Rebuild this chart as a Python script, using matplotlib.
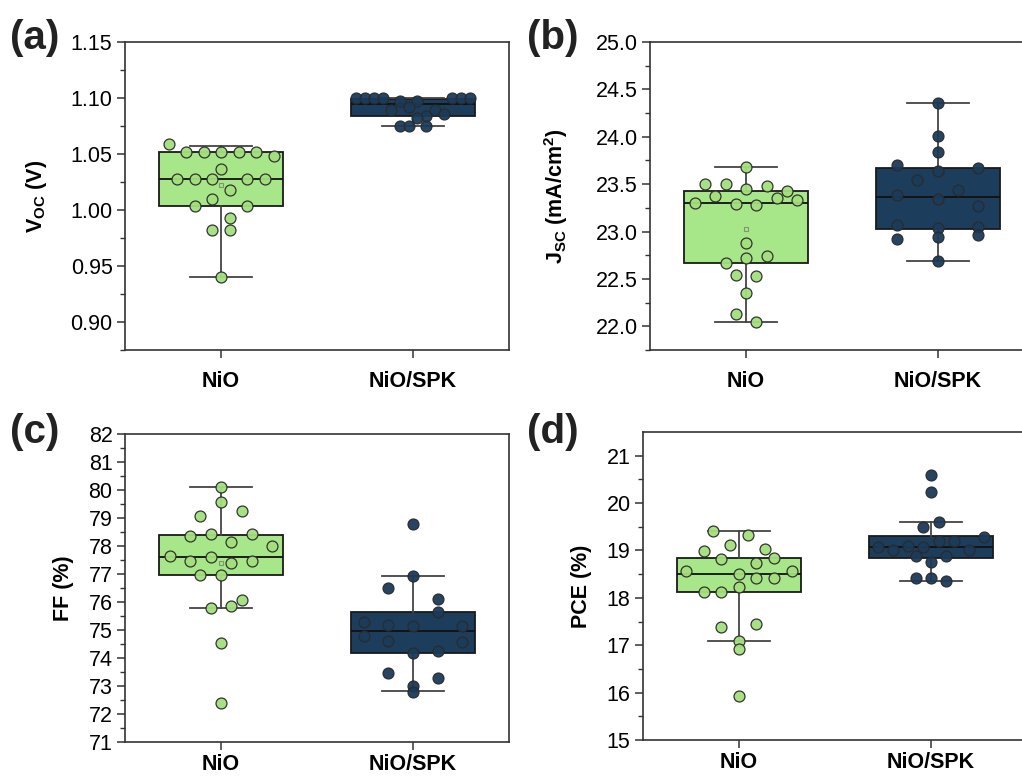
import numpy as np
import matplotlib
matplotlib.use("Agg")
import matplotlib.pyplot as plt

plt.rcParams["font.family"] = ["Liberation Sans", "DejaVu Sans"]
plt.rcParams["mathtext.fontset"] = "custom"
plt.rcParams["mathtext.rm"] = "Liberation Sans"
plt.rcParams["mathtext.bf"] = "Liberation Sans:bold"

groups = ["NiO", "NiO/SPK"]

# ---- Voc (V) ----
voc_nio = [1.0587, 1.0521, 1.0521, 1.0521, 1.0521, 1.0521, 1.0479, 1.0366, 1.0279, 1.0279,
           1.0279, 1.0279, 1.0279, 1.0179, 1.0098, 1.0038, 1.0038, 0.9926, 0.9821, 0.9821, 0.9402]
voc_nio_dx = [-0.273, -0.182, -0.09, 0.0, 0.092, 0.182, 0.274, 0.0, -0.229, -0.137,
              -0.045, 0.137, 0.227, 0.049, -0.045, -0.137, 0.137, 0.049, -0.045, 0.049, 0.0]
voc_spk = [1.1003, 1.1003, 1.1003, 1.1003, 1.1003, 1.1003, 1.1003, 1.0971, 1.0971, 1.0922,
           1.0897, 1.0897, 1.0839, 1.0857, 1.0824, 1.0753, 1.0753, 1.0753]
voc_spk_dx = [-0.297, -0.25, -0.205, -0.158, 0.203, 0.25, 0.295, -0.069, 0.021, -0.023,
              -0.115, 0.115, 0.068, 0.16, 0.021, -0.069, -0.023, 0.068]
# q1, median, q3, whisker low, whisker high, mean
voc_box = [[1.0038, 1.0279, 1.0521, 0.9402, 1.0575, 1.0226],
           [1.0839, 1.0946, 1.0995, 1.0753, 1.1003, 1.0920]]

# ---- Jsc (mA/cm2) ----
jsc_nio = [23.683, 23.497, 23.497, 23.479, 23.43, 23.451, 23.370, 23.349, 23.331, 23.30, 23.295,
           23.285, 22.88, 22.72, 22.737, 22.669, 22.546, 22.536, 22.352, 22.127, 22.05]
jsc_nio_dx = [0.0, -0.212, -0.104, 0.108, 0.214, 0.0, -0.16, 0.161, 0.266, -0.264, -0.052,
              0.054, 0.0, 0.0, 0.108, -0.104, -0.052, 0.054, 0.0, -0.052, 0.054]
jsc_spk = [24.352, 24.007, 23.842, 23.70, 23.673, 23.641, 23.543, 23.437, 23.384, 23.342,
           23.271, 23.074, 23.035, 23.043, 22.916, 22.944, 22.962, 22.69]
jsc_spk_dx = [0.0, 0.0, 0.0, -0.215, 0.21, 0.0, -0.108, 0.104, -0.215, 0.0,
              0.21, -0.215, 0.0, 0.21, -0.215, 0.0, 0.21, 0.0]
jsc_box = [[22.669, 23.296, 23.426, 22.05, 23.683, 23.03],
           [23.03, 23.366, 23.673, 22.69, 24.352, 23.40]]

# ---- FF (%) ----
ff_nio = [80.12, 79.58, 79.08, 79.26, 78.35, 78.43, 78.42, 78.13, 78.0, 77.66, 77.62,
          77.47, 77.40, 77.46, 76.97, 76.97, 76.08, 75.79, 75.87, 74.54, 72.38]
ff_nio_dx = [0.0, 0.0, -0.108, 0.108, -0.161, -0.054, 0.161, 0.054, 0.267, -0.267, -0.054,
             -0.161, 0.054, 0.161, -0.108, 0.0, 0.108, -0.054, 0.054, 0.0, 0.0]
ff_spk = [78.80, 76.92, 76.49, 76.12, 75.65, 75.27, 75.17, 75.13, 75.13, 74.79,
          74.60, 74.56, 74.18, 74.25, 73.45, 73.27, 72.99, 72.79]
ff_spk_dx = [0.0, 0.0, -0.128, 0.128, 0.128, -0.255, -0.128, 0.0, 0.255, -0.255,
             -0.128, 0.255, 0.0, 0.128, -0.128, 0.128, 0.0, 0.0]
ff_box = [[76.96, 77.61, 78.41, 75.79, 80.12, 77.40],
          [74.18, 74.95, 75.63, 72.83, 76.92, 75.00]]

# ---- PCE (%) ----
pce_nio = [19.42, 19.33, 19.12, 18.98, 19.03, 18.81, 18.85, 18.73, 18.57, 18.56, 18.51,
           18.41, 18.41, 18.22, 18.13, 18.13, 17.39, 17.45, 17.08, 16.91, 15.93]
pce_nio_dx = [-0.135, 0.047, -0.047, -0.182, 0.135, -0.092, 0.182, 0.09, -0.274, 0.274, 0.0,
              0.09, 0.182, 0.0, -0.182, -0.092, -0.092, 0.09, 0.0, 0.0, 0.0]
pce_spk = [20.59, 20.24, 19.60, 19.49, 19.29, 19.21, 19.21, 19.10, 19.07, 19.07,
           19.02, 19.02, 18.89, 18.88, 18.75, 18.41, 18.41, 18.35]
pce_spk_dx = [0.0, 0.0, 0.04, -0.043, 0.278, 0.04, 0.122, -0.122, -0.278, -0.043,
              -0.2, 0.2, -0.078, 0.078, 0.0, -0.078, 0.0, 0.078]
pce_box = [[18.13, 18.51, 18.85, 17.08, 19.42, 18.45],
           [18.85, 19.07, 19.30, 18.35, 19.60, 19.10]]

box_colors = ["#a8e68a", "#1d3d5c"]
dot_colors = ["#a3e07d", "#1b3b5a"]

W, H = 1022, 778
fig = plt.figure(figsize=(W / 100, H / 100), dpi=100)


def make_axes(left, top):
    return fig.add_axes([left / W, 1 - (top + 308) / H, 384 / W, 308 / H])


def draw_panel(ax, pts, offs, boxes, ylim, major, minor, ylabel, label_x, fmt, tag, tag_xy,
               xpad=9):
    stats = []
    for i, b in enumerate(boxes):
        stats.append(dict(q1=b[0], med=b[1], q3=b[2], whislo=b[3], whishi=b[4],
                          mean=b[5], fliers=[], label=groups[i]))
    bp = ax.bxp(stats, positions=[1, 2], widths=0.645, patch_artist=True,
                showfliers=False, showmeans=False,
                boxprops=dict(linewidth=1.3, edgecolor="#1a1a1a"),
                medianprops=dict(color="#111111", linewidth=1.3),
                whiskerprops=dict(color="#444444", linewidth=1.3),
                capprops=dict(color="#444444", linewidth=1.3),
                capwidths=0.32)
    for patch, c in zip(bp["boxes"], box_colors):
        patch.set_facecolor(c)
    # mean marker of the first group
    ax.plot(1, boxes[0][5], marker="s", ms=3, mfc="none", mec="#7a9a6a", mew=0.8, zorder=4)

    for i, (vals, dx) in enumerate(zip(pts, offs)):
        x = 1 + i + np.array(dx)
        ax.scatter(x, vals, s=62, color=dot_colors[i], edgecolor="#2a2a2a",
                   linewidth=0.9, zorder=5, alpha=0.95)

    ax.set_xlim(0.5, 2.5)
    ax.set_ylim(*ylim)
    ax.set_yticks(major)
    ax.set_yticks(minor, minor=True)
    ax.yaxis.set_major_formatter(plt.FormatStrFormatter(fmt))
    ax.set_xticks([1, 2])
    ax.set_xticklabels(groups, fontsize=15.5, fontweight="bold")
    ax.tick_params(axis="y", which="major", direction="out", length=6, width=1.1,
                   labelsize=15.5, color="#333333", pad=3)
    ax.tick_params(axis="y", which="minor", direction="out", length=3.5, width=1.0,
                   color="#333333")
    ax.tick_params(axis="x", direction="out", length=6, width=1.1, color="#333333", pad=xpad)
    for s in ax.spines.values():
        s.set_linewidth(1.2)
        s.set_color("#333333")
    ax.set_ylabel(ylabel, fontsize=15.5, fontweight="bold")
    ax.yaxis.set_label_coords(label_x, 0.5)
    fig.text(tag_xy[0] / W, 1 - tag_xy[1] / H, tag, fontsize=29, fontweight="bold",
             ha="left", va="center", color="#222222")


ax_a = make_axes(125, 42)
draw_panel(ax_a, [voc_nio, voc_spk], [voc_nio_dx, voc_spk_dx], voc_box,
           (0.875, 1.15), np.arange(0.90, 1.151, 0.05), np.arange(0.875, 1.15, 0.025),
           r"V$_\mathbf{OC}$ (V)", -0.198, "%.2f", "(a)", (10, 38))

ax_b = make_axes(650, 42)
draw_panel(ax_b, [jsc_nio, jsc_spk], [jsc_nio_dx, jsc_spk_dx], jsc_box,
           (21.75, 25.0), np.arange(22.0, 25.01, 0.5), np.arange(21.75, 25.0, 0.25),
           r"J$_\mathbf{SC}$ (mA/cm$^\mathbf{2}$)", -0.208, "%.1f", "(b)", (527, 38))

ax_c = make_axes(125, 434)
draw_panel(ax_c, [ff_nio, ff_spk], [ff_nio_dx, ff_spk_dx], ff_box,
           (71, 82), np.arange(71, 82.1, 1), np.arange(71.5, 82, 1.0),
           "FF (%)", -0.133, "%d", "(c)", (10, 432), xpad=3)

ax_d = make_axes(643, 432)
draw_panel(ax_d, [pce_nio, pce_spk], [pce_nio_dx, pce_spk_dx], pce_box,
           (15, 21.5), np.arange(15, 21.1, 1), np.arange(15.5, 21.5, 1.0),
           "PCE (%)", -0.133, "%d", "(d)", (527, 432), xpad=3)

fig.savefig("out.png", dpi=100)
